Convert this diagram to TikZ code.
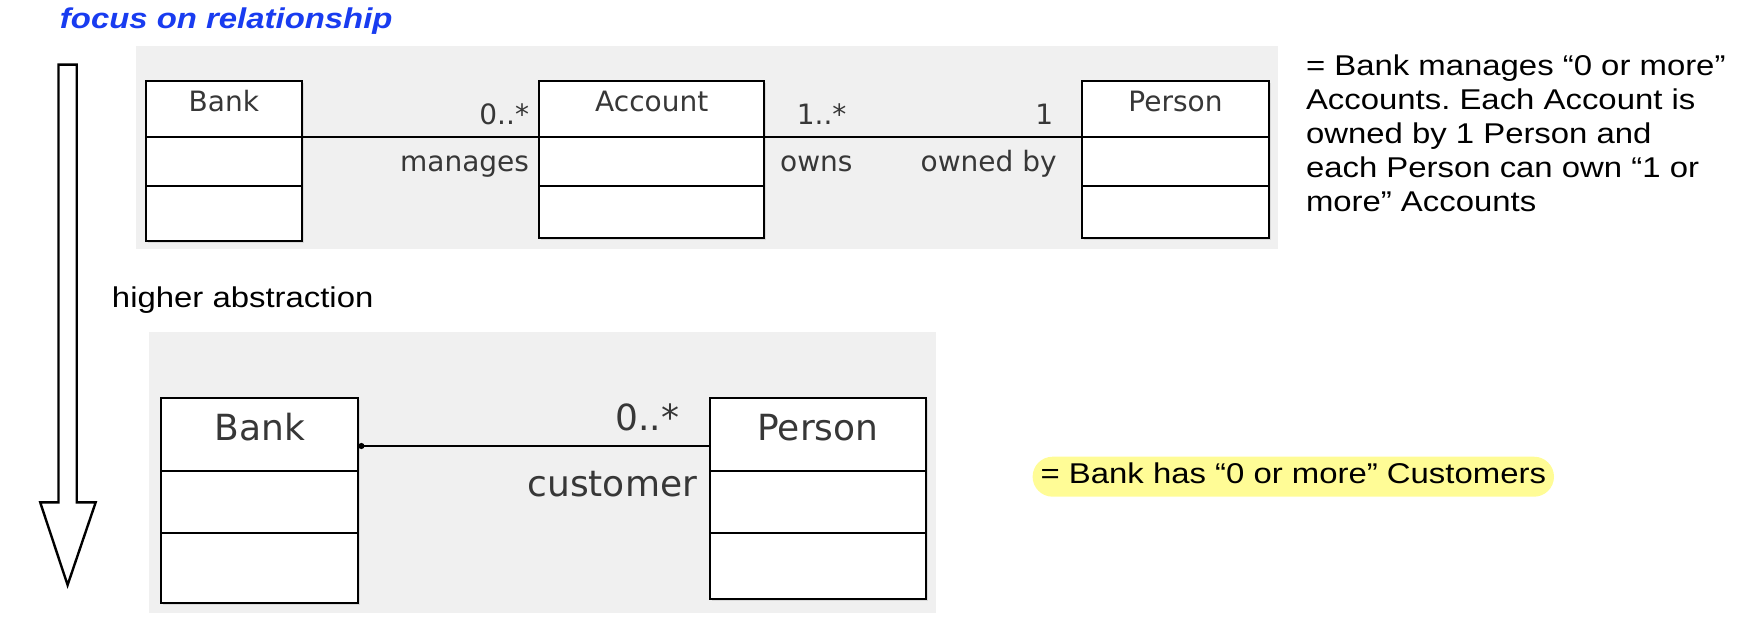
\documentclass[tikz,border=0pt]{standalone}
\usepackage{fontspec}
\setmainfont{Liberation Sans}[FakeStretch=1.15]
\newfontfamily\umlfont{DejaVu Sans}
\usetikzlibrary{positioning,arrows.meta,shadows}
\frenchspacing

\definecolor{titleblue}{RGB}{25,60,240}
\definecolor{panelgray}{RGB}{240,240,240}
\definecolor{markyellow}{RGB}{255,252,150}
\definecolor{umltext}{RGB}{55,55,55}

\begin{document}
\begin{tikzpicture}[x=0.5pt, y=-0.5pt,
  every node/.style={inner sep=0pt, outer sep=0pt},
  slide/.style={font=\fontsize{14.3pt}{17pt}\selectfont},
  compart/.style 2 args={draw, fill=white, line width=1pt, minimum width=#1, minimum height=#2,
    drop shadow={shadow xshift=1pt, shadow yshift=-1pt, opacity=0.2}},
  uml/.style={text=umltext, font=\umlfont\fontsize{#1}{#1}\selectfont},
  assoc/.style={line width=1pt}]

\useasboundingbox (0,0) rectangle (1758,642);

% Grey backgrounds of the two diagrams
\fill[panelgray] (136,46) rectangle (1278,249);
\fill[panelgray] (148.5,331.7) rectangle (935.6,612.7);

% Hollow arrow on the left
\draw[line width=1.2pt, fill=white] (58.5,64.7) -- (76.7,64.7) -- (76.7,502.3) -- (95.7,502.3)
  -- (67.6,585) -- (40.2,502.3) -- (58.5,502.3) -- cycle;

% Texts
\node[slide, font=\fontsize{14.3pt}{17pt}\selectfont\bfseries\itshape, text=titleblue, anchor=base west] (title) at (60,28.3) {focus on relationship};
\node[slide, anchor=base west] (abstr) at (112,307.3) {higher abstraction};
\node[slide, anchor=north west, align=left] (noteA) at (1306,55) {= Bank manages “0 or more”\\Accounts. Each Account is\\owned by 1 Person and\\each Person can own “1 or\\more” Accounts};
\node[slide, fill=markyellow, rounded corners=10pt, minimum width=260.7pt, minimum height=20pt,
  text height=10.5pt, text depth=3.9pt] (noteB) at (1293.3,476.7) {= Bank has “0 or more” Customers};

% Top diagram: Bank, Account, Person
\node[compart={77.9pt}{28pt}, anchor=north west] (bankA) at (146,80.7) {};
\node[compart={77.9pt}{24.5pt}, below=0pt of bankA] (bankAattr) {};
\node[compart={77.9pt}{27.5pt}, below=0pt of bankAattr] (bankAops) {};
\node[uml=14pt, anchor=base] (bankAname) at ([yshift=-15.6pt]bankA.north) {Bank};

\node[compart={112.7pt}{28pt}, anchor=north west] (acct) at (539,80.7) {};
\node[compart={112.7pt}{24.5pt}, below=0pt of acct] (acctattr) {};
\node[compart={112.7pt}{26.3pt}, below=0pt of acctattr] (acctops) {};
\node[uml=14pt, anchor=base] (acctname) at ([yshift=-15.6pt]acct.north) {Account};

\node[compart={93.8pt}{28pt}, anchor=north west] (personA) at (1081.7,80.7) {};
\node[compart={93.8pt}{24.5pt}, below=0pt of personA] (personAattr) {};
\node[compart={93.8pt}{26.3pt}, below=0pt of personAattr] (personAops) {};
\node[uml=14pt, anchor=base] (personAname) at ([yshift=-15.6pt]personA.north) {Person};

\draw[assoc] (bankA.south east) -- (acct.south west);
\draw[assoc] (acct.south east) -- (personA.south west);

\node[uml=14pt, anchor=base east] (multBank) at ([xshift=-5pt, yshift=6.3pt]acct.south west) {0..*};
\node[uml=14pt, anchor=base east] (roleBank) at ([xshift=-5pt, yshift=-17.5pt]acct.south west) {manages};
\node[uml=14pt, anchor=base west] (multAcct) at ([xshift=16.2pt, yshift=6.3pt]acct.south east) {1..*};
\node[uml=14pt, anchor=base west] (roleAcct) at ([xshift=7.9pt, yshift=-17.5pt]acct.south east) {owns};
\node[uml=14pt, anchor=base east] (multPerson) at ([xshift=-14.3pt, yshift=6.3pt]personA.south west) {1};
\node[uml=14pt, anchor=base east] (rolePerson) at ([xshift=-12.5pt, yshift=-17.5pt]personA.south west) {owned by};

% Bottom diagram: Bank, Person
\node[compart={98.5pt}{36.2pt}, anchor=north west] (bankB) at (161.4,398.3) {};
\node[compart={98.5pt}{31.3pt}, below=0pt of bankB] (bankBattr) {};
\node[compart={98.5pt}{34.7pt}, below=0pt of bankBattr] (bankBops) {};
\node[uml=18pt, anchor=base] (bankBname) at ([yshift=-20.9pt]bankB.north) {Bank};

\node[compart={108.1pt}{36.2pt}, anchor=north west] (personB) at (709.8,398.3) {};
\node[compart={108.1pt}{31.3pt}, below=0pt of personB] (personBattr) {};
\node[compart={108.1pt}{33pt}, below=0pt of personBattr] (personBops) {};
\node[uml=18pt, anchor=base] (personBname) at ([yshift=-20.9pt]personB.north) {Person};

\draw[assoc, {Circle[length=3pt]}-] ([yshift=-5.75pt]bankB.east) -- ([yshift=-5.75pt]personB.west);

\node[uml=18pt, anchor=base east] (multCust) at ([xshift=-15.4pt, yshift=1.95pt]personB.west) {0..*};
\node[uml=18pt, anchor=base east] (roleCust) at ([xshift=-6.4pt, yshift=-31.2pt]personB.west) {customer};

\end{tikzpicture}
\end{document}
